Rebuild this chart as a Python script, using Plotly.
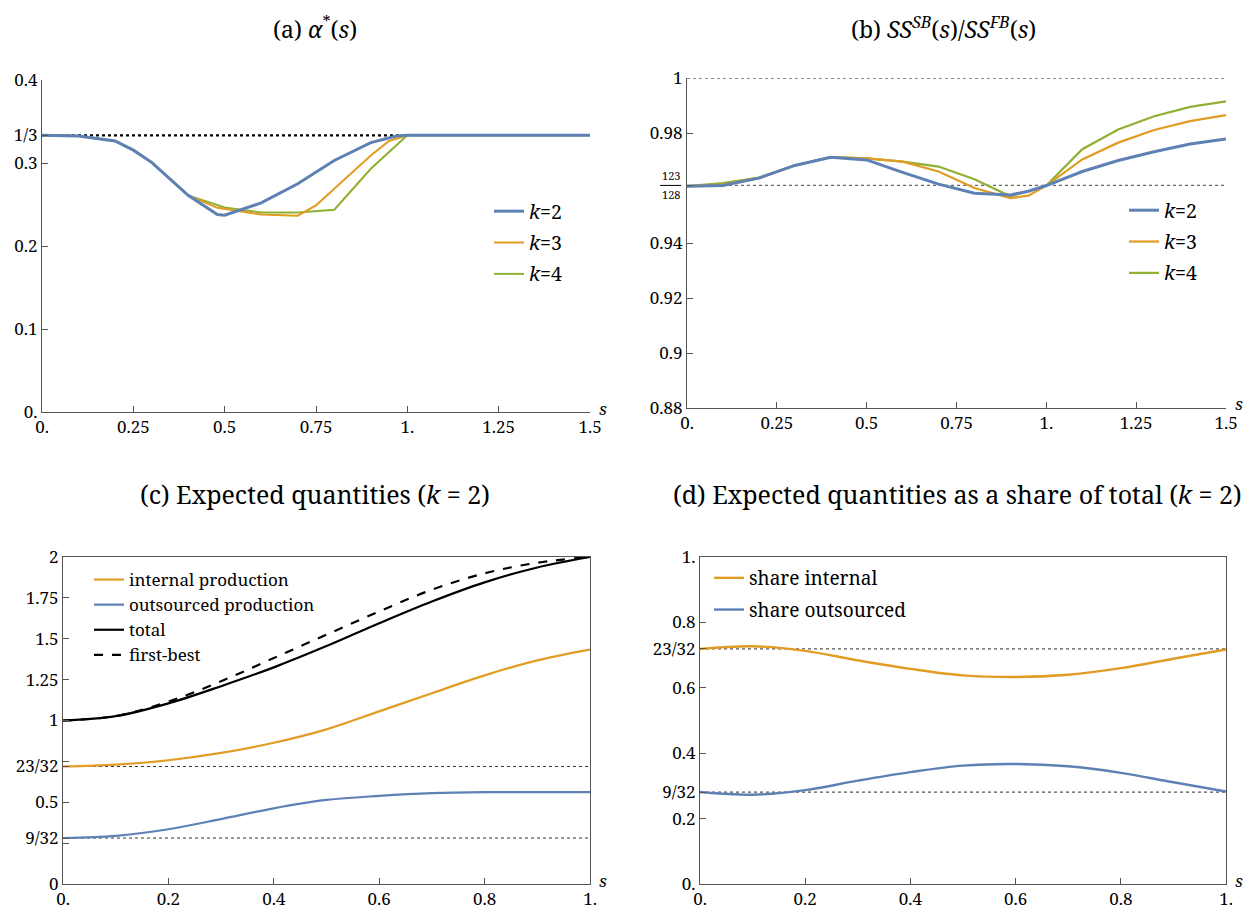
import plotly.graph_objects as go

# ---------------- data ----------------
# (a) alpha*(s)
alpha_k2_s = [0, 0.1, 0.2, 0.25, 0.3, 0.4, 0.48, 0.5, 0.6, 0.7, 0.8, 0.9, 0.97, 1.0, 1.5]
alpha_k2 = [0.3333, 0.3325, 0.3266, 0.3155, 0.3008, 0.261, 0.238, 0.237, 0.252, 0.275, 0.303, 0.3246, 0.3325, 0.3333, 0.3333]
alpha_k3_s = [0, 0.1, 0.2, 0.25, 0.3, 0.4, 0.48, 0.6, 0.7, 0.75, 0.8, 0.9, 0.95, 1.0, 1.5]
alpha_k3 = [0.3333, 0.3325, 0.3266, 0.3155, 0.3008, 0.261, 0.246, 0.238, 0.2365, 0.249, 0.269, 0.309, 0.3266, 0.3333, 0.3333]
alpha_k4_s = [0, 0.1, 0.2, 0.25, 0.3, 0.4, 0.5, 0.6, 0.7, 0.8, 0.9, 1.0, 1.5]
alpha_k4 = [0.3333, 0.3325, 0.3266, 0.3155, 0.3008, 0.261, 0.2464, 0.2405, 0.2405, 0.2437, 0.293, 0.3333, 0.3333]
alpha_fb_s = [0, 1.0]
alpha_fb = [1 / 3, 1 / 3]

# (b) SS^SB / SS^FB
ss_s = [0, 0.1, 0.2, 0.3, 0.4, 0.5, 0.6, 0.7, 0.8, 0.9, 0.95, 1.0, 1.1, 1.2, 1.3, 1.4, 1.5]
ss_k2 = [0.9606, 0.9609, 0.9636, 0.9682, 0.9712, 0.9702, 0.9657, 0.9614, 0.9581, 0.9575, 0.9588, 0.9609, 0.966, 0.970, 0.9732, 0.976, 0.9778]
ss_k3 = [0.9606, 0.9612, 0.9637, 0.9682, 0.9712, 0.9708, 0.9696, 0.966, 0.960, 0.9563, 0.9572, 0.9609, 0.9704, 0.9765, 0.9811, 0.9843, 0.9865]
ss_k4 = [0.9607, 0.9618, 0.9638, 0.9682, 0.9712, 0.9708, 0.9696, 0.9678, 0.9632, 0.957, 0.9588, 0.9609, 0.9741, 0.9813, 0.9861, 0.9895, 0.9915]
ss_ref_s = [0, 1.5]
ss_ref_one = [1.0, 1.0]
ss_ref_frac = [123 / 128, 123 / 128]

# (c) expected quantities (k=2)
q_s = [0, 0.1, 0.2, 0.3, 0.4, 0.5, 0.6, 0.7, 0.8, 0.9, 1.0]
q_internal = [0.71875, 0.730, 0.757, 0.802, 0.864, 0.946, 1.056, 1.167, 1.276, 1.368, 1.434]
q_outsourced = [0.28125, 0.294, 0.335, 0.397, 0.463, 0.514, 0.539, 0.556, 0.562, 0.562, 0.562]
q_total = [1.0, 1.027, 1.105, 1.21, 1.325, 1.455, 1.595, 1.728, 1.845, 1.936, 2.0]
q_firstbest = [1.0, 1.027, 1.115, 1.24, 1.382, 1.525, 1.667, 1.80, 1.9, 1.965, 2.0]
q_ref_s = [0, 1.0]
q_ref_int = [23 / 32, 23 / 32]
q_ref_out = [9 / 32, 9 / 32]

# (d) shares (k=2)
share_internal = [0.71875, 0.727, 0.713, 0.684, 0.658, 0.638, 0.633, 0.640, 0.660, 0.689, 0.717]
share_outsourced = [0.28125, 0.273, 0.287, 0.316, 0.342, 0.362, 0.367, 0.360, 0.340, 0.311, 0.283]

# tick labels
a_xticks = [0, 0.25, 0.5, 0.75, 1.0, 1.25, 1.5]
a_xtext = ["0.", "0.25", "0.5", "0.75", "1.", "1.25", "1.5"]
a_yticks = [0, 0.1, 0.2, 0.3, 1 / 3, 0.4]
a_ytext = ["0.", "0.1", "0.2", "0.3", "1/3", "0.4"]
b_yticks = [0.88, 0.9, 0.92, 0.94, 123 / 128, 0.98, 1.0]
b_ytext = ["0.88", "0.9", "0.92", "0.94", "", "0.98", "1"]
c_xticks = [0, 0.2, 0.4, 0.6, 0.8, 1.0]
c_xtext = ["0.", "0.2", "0.4", "0.6", "0.8", "1."]
c_yticks = [0, 0.25, 9 / 32, 0.5, 23 / 32, 0.75, 1, 1.25, 1.5, 1.75, 2]
c_ytext = ["0", "", "9/32", "0.5", "23/32", "", "1", "1.25", "1.5", "1.75", "2"]
d_yticks = [0, 0.2, 9 / 32, 0.4, 0.6, 23 / 32, 0.8, 1.0]
d_ytext = ["0.", "0.2", "9/32", "0.4", "0.6", "23/32", "0.8", "1."]

# ---------------- style ----------------
BLUE = "#5E81B5"
ORANGE = "#E19C24"
GREEN = "#8FB032"
FONT = "Noto Serif"
# page body has an 8px margin; size the figure so it fits the window exactly
OFF = 8
W, H = 1260 - OFF, 919 - OFF

fig = go.Figure()

# (a)
fig.add_trace(go.Scatter(x=alpha_fb_s, y=alpha_fb, mode="lines", line=dict(color="black", width=2.2, dash="dot"),
                         showlegend=False, xaxis="x", yaxis="y"))
fig.add_trace(go.Scatter(x=alpha_k4_s, y=alpha_k4, mode="lines", line=dict(color=GREEN, width=2),
                         name="<i>k</i>=4", legend="legend", legendgroup="a4", legendrank=3, xaxis="x", yaxis="y"))
fig.add_trace(go.Scatter(x=alpha_k3_s, y=alpha_k3, mode="lines", line=dict(color=ORANGE, width=2),
                         name="<i>k</i>=3", legend="legend", legendgroup="a3", legendrank=2, xaxis="x", yaxis="y"))
fig.add_trace(go.Scatter(x=alpha_k2_s, y=alpha_k2, mode="lines", line=dict(color=BLUE, width=3),
                         name="<i>k</i>=2", legend="legend", legendgroup="a2", legendrank=1, xaxis="x", yaxis="y"))

# (b)
for ref in (ss_ref_one, ss_ref_frac):
    fig.add_trace(go.Scatter(x=ss_ref_s, y=ref, mode="lines", line=dict(color="#666", width=1.3, dash="dot"),
                             showlegend=False, xaxis="x2", yaxis="y2"))
fig.add_trace(go.Scatter(x=ss_s, y=ss_k4, mode="lines", line=dict(color=GREEN, width=2.2),
                         name="<i>k</i>=4", legend="legend2", legendgroup="b4", legendrank=3, xaxis="x2", yaxis="y2"))
fig.add_trace(go.Scatter(x=ss_s, y=ss_k3, mode="lines", line=dict(color=ORANGE, width=2.2),
                         name="<i>k</i>=3", legend="legend2", legendgroup="b3", legendrank=2, xaxis="x2", yaxis="y2"))
fig.add_trace(go.Scatter(x=ss_s, y=ss_k2, mode="lines", line=dict(color=BLUE, width=3),
                         name="<i>k</i>=2", legend="legend2", legendgroup="b2", legendrank=1, xaxis="x2", yaxis="y2"))

# (c)
for ref in (q_ref_int, q_ref_out):
    fig.add_trace(go.Scatter(x=q_ref_s, y=ref, mode="lines", line=dict(color="#333", width=1, dash="dot"),
                             showlegend=False, xaxis="x3", yaxis="y3"))
fig.add_trace(go.Scatter(x=q_s, y=q_internal, mode="lines", line=dict(color=ORANGE, width=2.2, shape="spline"),
                         name="internal production", legend="legend3", xaxis="x3", yaxis="y3"))
fig.add_trace(go.Scatter(x=q_s, y=q_outsourced, mode="lines", line=dict(color=BLUE, width=2.2, shape="spline"),
                         name="outsourced production", legend="legend3", xaxis="x3", yaxis="y3"))
fig.add_trace(go.Scatter(x=q_s, y=q_total, mode="lines", line=dict(color="black", width=2.2, shape="spline"),
                         name="total", legend="legend3", xaxis="x3", yaxis="y3"))
fig.add_trace(go.Scatter(x=q_s, y=q_firstbest, mode="lines", line=dict(color="black", width=2.2, dash="dash", shape="spline"),
                         name="first-best", legend="legend3", xaxis="x3", yaxis="y3"))

# (d)
for ref in (q_ref_int, q_ref_out):
    fig.add_trace(go.Scatter(x=q_ref_s, y=ref, mode="lines", line=dict(color="#555", width=1.2, dash="dot"),
                             showlegend=False, xaxis="x4", yaxis="y4"))
fig.add_trace(go.Scatter(x=q_s, y=share_internal, mode="lines", line=dict(color=ORANGE, width=2.4, shape="spline"),
                         name="share internal", legend="legend4", legendgroup="d1", xaxis="x4", yaxis="y4"))
fig.add_trace(go.Scatter(x=q_s, y=share_outsourced, mode="lines", line=dict(color=BLUE, width=2.4, shape="spline"),
                         name="share outsourced", legend="legend4", legendgroup="d2", xaxis="x4", yaxis="y4"))


def px_x(p):
    return (p - OFF) / W


def px_y(p):
    return 1 - (p - OFF) / H


tickfont = dict(family=FONT, size=17, color="black")


def ax(domain, rng, vals, text, anchor, mirror=False):
    return dict(domain=domain, range=rng, tickmode="array", tickvals=vals, ticktext=text,
                showline=True, linecolor="#555", linewidth=1, mirror=mirror,
                ticks="inside", ticklen=6, tickcolor="#555", showgrid=False, zeroline=False,
                tickfont=tickfont, anchor=anchor, fixedrange=True, automargin=False)


def legfont(size):
    return dict(family=FONT, size=size, color="black")


fig.update_layout(
    width=W, height=H, margin=dict(l=0, r=0, t=0, b=0, autoexpand=False),
    paper_bgcolor="white", plot_bgcolor="white",
    font=dict(family=FONT, color="black"),
    xaxis=ax([px_x(42), px_x(590)], [0, 1.5], a_xticks, a_xtext, "y"),
    yaxis=ax([px_y(412), px_y(80)], [0, 0.4], a_yticks, a_ytext, "x"),
    xaxis2=ax([px_x(687), px_x(1226)], [0, 1.5], a_xticks, a_xtext, "y2"),
    yaxis2=ax([px_y(408), px_y(78)], [0.88, 1.0], b_yticks, b_ytext, "x2"),
    xaxis3=ax([px_x(63), px_x(590)], [0, 1], c_xticks, c_xtext, "y3", mirror=True),
    yaxis3=ax([px_y(884), px_y(557)], [0, 2], c_yticks, c_ytext, "x3", mirror=True),
    xaxis4=ax([px_x(700), px_x(1226)], [0, 1], c_xticks, c_xtext, "y4", mirror=True),
    yaxis4=ax([px_y(884), px_y(557)], [0, 1], d_yticks, d_ytext, "x4", mirror=True),
    legend=dict(x=px_x(489), y=px_y(192), xanchor="left", yanchor="top", font=legfont(19.5),
                bgcolor="rgba(0,0,0,0)", tracegroupgap=3),
    legend2=dict(x=px_x(1124), y=px_y(191), xanchor="left", yanchor="top", font=legfont(19.5),
                 bgcolor="rgba(0,0,0,0)", tracegroupgap=3),
    legend3=dict(x=px_x(89), y=px_y(562), xanchor="left", yanchor="top", font=legfont(17),
                 bgcolor="rgba(0,0,0,0)"),
    legend4=dict(x=px_x(709), y=px_y(559), xanchor="left", yanchor="top", font=legfont(19),
                 bgcolor="rgba(0,0,0,0)", tracegroupgap=4),
)


def title(text, x, y, size):
    return dict(text=text, x=px_x(x), y=px_y(y), xref="paper", yref="paper", xanchor="center",
                yanchor="middle", showarrow=False, font=dict(family=FONT, size=size, color="black"))


annotations = [
    title("(a) <i>α</i><sup>*</sup>(<i>s</i>)", 315, 28, 23),
    title("(b) <i>SS</i><sup><i>SB</i></sup>(<i>s</i>)/<i>SS</i><sup><i>FB</i></sup>(<i>s</i>)", 943, 28, 23),
    title("(c) Expected quantities (<i>k</i> = 2)", 315, 494, 25),
    title("(d) Expected quantities as a share of total (<i>k</i> = 2)", 957, 494, 25),
    dict(text="123", x=0, xref="x2 domain", y=123 / 128, yref="y2", xanchor="right", yanchor="middle",
         xshift=-5, yshift=10, showarrow=False, font=dict(family=FONT, size=11)),
    dict(text="128", x=0, xref="x2 domain", y=123 / 128, yref="y2", xanchor="right", yanchor="middle",
         xshift=-5, yshift=-9, showarrow=False, font=dict(family=FONT, size=11)),
]
for xr, yr in (("x", "y"), ("x2", "y2"), ("x3", "y3"), ("x4", "y4")):
    annotations.append(dict(text="<i>s</i>", x=1, xref=f"{xr} domain", y=0, yref=f"{yr} domain",
                            xanchor="left", yanchor="middle", xshift=7, yshift=4, showarrow=False,
                            font=dict(family=FONT, size=17)))
fig.update_layout(annotations=annotations)
fig.add_shape(type="line", xref="x2 domain", yref="y2", x0=-0.05, x1=-0.011, y0=123 / 128, y1=123 / 128,
              line=dict(color="black", width=1))

fig.write_html("out.html")
